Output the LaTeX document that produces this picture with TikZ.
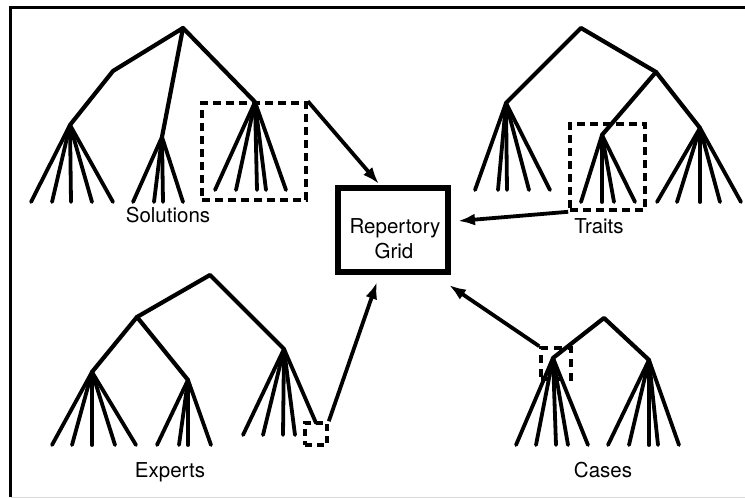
\documentclass[tikz,border=0pt]{standalone}
\usepackage{fontspec}
\setmainfont{TeX Gyre Heros}
\usetikzlibrary{arrows.meta}
\tikzset{
  branch/.style={line width=4.2pt, line cap=round, line join=round},
  leaf/.style={line width=3.8pt, line cap=round},
  selbox/.style={draw, line width=3.6pt, dash pattern=on 8pt off 5pt, inner sep=0pt},
  gridbox/.style={draw, line width=6pt, inner sep=0pt, minimum width=110pt, minimum height=84pt},
  link/.style={line width=3.8pt, -{Latex[length=17pt,width=12pt]}},
  lbl/.style={font=\fontsize{20.5pt}{24pt}\selectfont, anchor=base, inner sep=0pt},
}
\begin{document}
\begin{tikzpicture}[x=1pt, y=-1pt]
\useasboundingbox (0,0) rectangle (745,498);
% frame
\draw[line width=3pt] (745,7.5) -- (10.5,7.5) -- (10.5,497);
\draw[line width=1pt, black!15] (10.5,497) -- (745,497);

% ---------- Solutions ----------
\coordinate (s0) at (183,28);
\coordinate (s0a) at (113,71);
\coordinate (sA) at (70,125);
\coordinate (sB) at (162,137);
\coordinate (sC) at (255,102);
\draw[branch] (sA) -- (s0a) -- (s0) -- (sB);
\draw[branch] (s0) -- (sC);
\foreach \x [count=\i] in {31,52,71,92,113} {
  \coordinate (sA\i) at (\x,202); \draw[leaf] (sA) -- (sA\i);}
\foreach \x [count=\i] in {133,154,163,183} {
  \coordinate (sB\i) at (\x,202); \draw[leaf] (sB) -- (sB\i);}
\foreach \x [count=\i] in {215,236,257,266,286} {
  \coordinate (sC\i) at (\x,190); \draw[leaf] (sC) -- (sC\i);}
\node[selbox, minimum width=104pt, minimum height=97pt] (selS) at (254,151.5) {};
\node[lbl] (solutions) at (168,222) {Solutions};

% ---------- Traits ----------
\coordinate (t0) at (581,28);
\coordinate (t0b) at (656,72);
\coordinate (tA) at (506,103);
\coordinate (tB) at (602,135);
\coordinate (tC) at (700,128);
\draw[branch] (tA) -- (t0) -- (t0b) -- (tC);
\draw[branch] (t0b) -- (tB);
\foreach \x [count=\i] in {475,498,507,529,550} {
  \coordinate (tA\i) at (\x,190); \draw[leaf] (tA) -- (tA\i);}
\foreach \x [count=\i] in {581,602,614,635} {
  \coordinate (tB\i) at (\x,202); \draw[leaf] (tB) -- (tB\i);}
\foreach \x [count=\i] in {657,677,700,720,741} {
  \coordinate (tC\i) at (\x,202); \draw[leaf] (tC) -- (tC\i);}
\node[selbox, minimum width=75pt, minimum height=86pt] (selT) at (607.5,167) {};
\node[lbl] (traits) at (599,233) {Traits};

% ---------- Experts ----------
\coordinate (e0) at (210,275);
\coordinate (e0a) at (137,317);
\coordinate (eA) at (92,372);
\coordinate (eB) at (188,380);
\coordinate (eC) at (284,349);
\draw[branch] (eA) -- (e0a) -- (e0) -- (eC);
\draw[branch] (e0a) -- (eB);
\foreach \x [count=\i] in {52,72,92,115,136} {
  \coordinate (eA\i) at (\x,445); \draw[leaf] (eA) -- (eA\i);}
\foreach \x [count=\i] in {157,179,188,211} {
  \coordinate (eB\i) at (\x,445); \draw[leaf] (eB) -- (eB\i);}
\foreach \x [count=\i] in {243,263,283,295} {
  \coordinate (eC\i) at (\x,435); \draw[leaf] (eC) -- (eC\i);}
\coordinate (eC5) at (316,423);
\draw[leaf] (eC) -- (eC5);
\node[selbox, minimum width=22pt, minimum height=22pt, dash pattern=on 7pt off 5pt] (selE) at (316,434) {};
\node[lbl] (experts) at (170,477) {Experts};

% ---------- Cases ----------
\coordinate (c0) at (604,318);
\coordinate (cA) at (553,358);
\coordinate (cB) at (649,360);
\draw[branch] (cA) -- (c0) -- (cB);
\foreach \x [count=\i] in {516,536,556,568,588} {
  \coordinate (cA\i) at (\x,445); \draw[leaf] (cA) -- (cA\i);}
\foreach \x [count=\i] in {608,629,649,658,679} {
  \coordinate (cB\i) at (\x,445); \draw[leaf] (cB) -- (cB\i);}
\node[selbox, minimum width=30pt, minimum height=31pt, dash pattern=on 8pt off 6pt] (selC) at (556,363.5) {};
\node[lbl] (cases) at (603,477) {Cases};

% ---------- Repertory grid ----------
\node[gridbox] (grid) at (393,230) {};
\node[lbl] (gridA) at (395,233) {Repertory};
\node[lbl] (gridB) at (394,258) {Grid};
\coordinate (inS) at (379,184);
\coordinate (inT) at (458,221);
\coordinate (inE) at (377,282);
\coordinate (inC) at (449,285);
\draw[link] (selS.north east) -- (inS);
\draw[link] (selT.south west) -- (inT);
\draw[link] (selE.north east) -- (inE);
\draw[link] (selC.north west) -- (inC);
\end{tikzpicture}
\end{document}
